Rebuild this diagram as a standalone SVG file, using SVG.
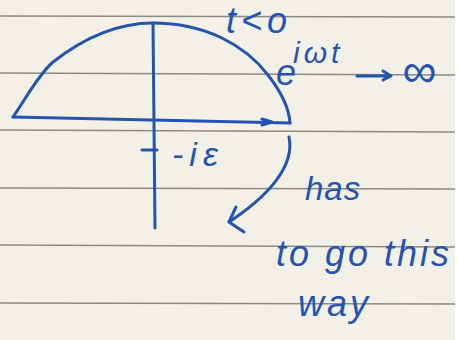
<svg xmlns="http://www.w3.org/2000/svg" width="459" height="340" viewBox="0 0 459 340">
<defs>
<style>
.ink{fill:none;stroke:#2454b0;stroke-width:3;stroke-linecap:round;stroke-linejoin:round}
.rule{stroke:#8c8a86;stroke-width:1.6}
.t{fill:#2454b0;font-family:"Liberation Sans",sans-serif;font-style:italic}
</style>
</defs>
<rect width="459" height="340" fill="#f3f0e8"/>
<rect x="455" width="4" height="340" fill="#ffffff"/>
<g id="rules">
<line class="rule" x1="0" y1="16" x2="455" y2="17"/>
<line class="rule" x1="0" y1="73" x2="455" y2="75"/>
<line class="rule" x1="0" y1="130" x2="455" y2="132"/>
<line class="rule" x1="0" y1="188" x2="455" y2="189"/>
<line class="rule" x1="0" y1="245" x2="455" y2="247"/>
<line class="rule" x1="0" y1="303" x2="455" y2="304"/>
</g>
<g id="contour">
<path class="ink" d="M13 117 L290 123"/>
<path class="ink" d="M13 117 C25 100 38 75 53 62 C85 37 120 23 153 23 C205 23 245 45 268 75 C282 93 289 108 290 123"/>
<path class="ink" d="M262 119 L272 122 L262 125"/>
</g>
<g id="axis">
<path class="ink" d="M153 23 L155 228"/>
<path class="ink" d="M142 150 L157 150"/>
</g>
<g id="connectors">
<path class="ink" d="M289 137 C295 165 270 195 229 222"/>
<path class="ink" d="M236 207 L229 222 L244 232"/>
</g>
<g id="labels">
<text class="t" x="172" y="166" font-size="34" letter-spacing="6">-iε</text>
<text class="t" x="226" y="33" font-size="36" letter-spacing="5">t&lt;o</text>
<text class="t" x="276" y="85" font-size="36">e</text>
<text class="t" x="293" y="63" font-size="30" letter-spacing="4">iωt</text>
<path class="ink" d="M357 76 L390 76 M383 71 L391 76 L383 80" stroke-width="2.5"/>
<text class="t" x="402" y="87" font-size="48">∞</text>
<text class="t" x="305" y="200" font-size="33" letter-spacing="1">has</text>
<text class="t" x="276" y="266" font-size="36" letter-spacing="3">to go this</text>
<text class="t" x="298" y="316" font-size="36" letter-spacing="3">way</text>
</g>
</svg>
